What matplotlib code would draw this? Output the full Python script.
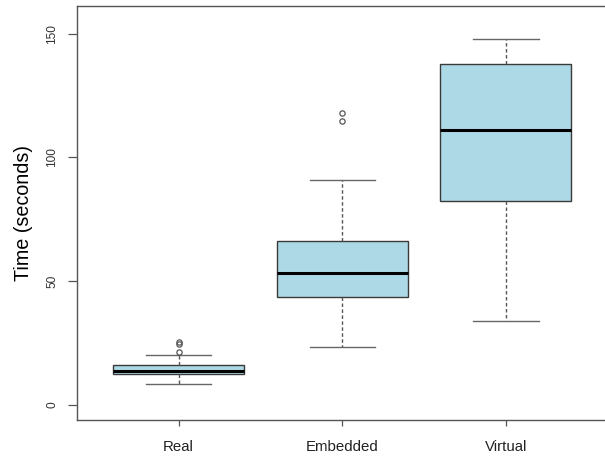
import matplotlib
matplotlib.use("Agg")
import matplotlib.pyplot as plt

plt.rcParams['font.family'] = ['Liberation Sans', 'DejaVu Sans']

categories = ["Real", "Embedded", "Virtual"]
q1 = [12.5, 43.6, 82.2]
medians = [13.6, 53.4, 111.0]
q3 = [16.1, 66.1, 137.7]
whislo = [8.4, 23.2, 33.7]
whishi = [20.2, 90.9, 147.7]
outliers = [[21.2, 24.5, 25.2], [114.6, 118.1], []]
yticks = [0, 50, 100, 150]

stats = []
for i, c in enumerate(categories):
    stats.append(dict(label=c, q1=q1[i], med=medians[i], q3=q3[i],
                      whislo=whislo[i], whishi=whishi[i], fliers=outliers[i]))

fig = plt.figure(figsize=(6.05, 4.57), dpi=100)
ax = fig.add_axes([77/605, 1 - 420/457, (607.5 - 77)/605, 414/457])

edge = '#3a3a3a'
ax.bxp(stats, positions=[1, 2, 3], widths=0.8, patch_artist=True,
       boxprops=dict(facecolor='#ADD8E6', edgecolor=edge, linewidth=1.0),
       medianprops=dict(color='black', linewidth=2.2, solid_capstyle='butt'),
       whiskerprops=dict(color='#555555', linewidth=1.0, linestyle=(0, (2.5, 1.8))),
       capprops=dict(color='#666666', linewidth=1.0),
       capwidths=0.4,
       flierprops=dict(marker='o', markersize=3.8, markerfacecolor='none',
                       markeredgecolor='#555555', markeredgewidth=0.9))

ax.set_xlim(0.38, 3.62)
ax.set_ylim(-6.2, 161.2)
ax.set_yticks(yticks)
ax.set_yticklabels([str(v) for v in yticks], rotation=90, va='center', fontsize=8.6, color='#333333')
ax.set_xticks([1, 2, 3])
ax.set_xticklabels(categories, fontsize=10.8, color='#222222')
ax.tick_params(axis='y', length=6.5, width=0.9, color='#555555', pad=7)
ax.tick_params(axis='x', length=4.5, width=0.9, color='#555555', pad=10)
for s in ax.spines.values():
    s.set_color('#555555')
    s.set_linewidth(1.0)
ax.set_ylabel("Time (seconds)", fontsize=14.2, color='black')
ax.yaxis.set_label_coords(-(77 - 33) / (607.5 - 77), 0.5)

fig.savefig("out.png", dpi=100)
